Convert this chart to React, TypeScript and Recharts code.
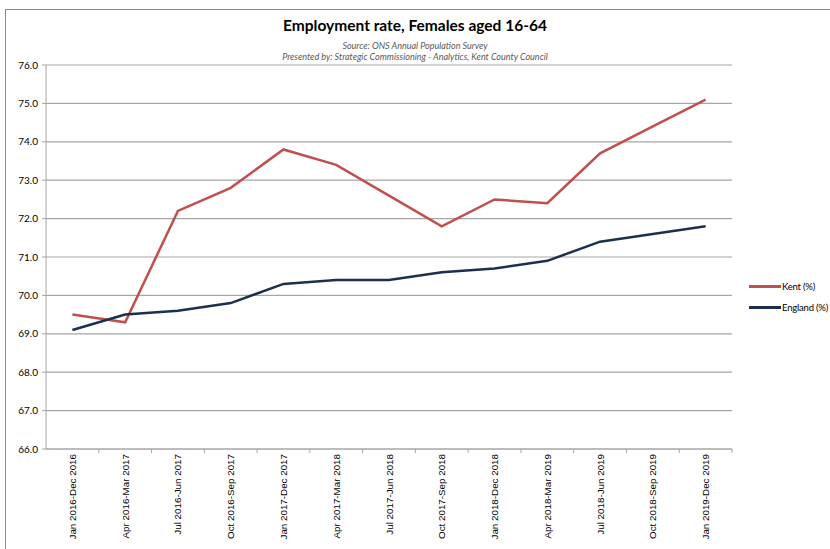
import { CartesianGrid, Line, LineChart, XAxis, YAxis } from "recharts";

const periods = [
  "Jan 2016-Dec 2016",
  "Apr 2016-Mar 2017",
  "Jul 2016-Jun 2017",
  "Oct 2016-Sep 2017",
  "Jan 2017-Dec 2017",
  "Apr 2017-Mar 2018",
  "Jul 2017-Jun 2018",
  "Oct 2017-Sep 2018",
  "Jan 2018-Dec 2018",
  "Apr 2018-Mar 2019",
  "Jul 2018-Jun 2019",
  "Oct 2018-Sep 2019",
  "Jan 2019-Dec 2019"
];
const kent = [69.5, 69.3, 72.2, 72.8, 73.8, 73.4, 72.6, 71.8, 72.5, 72.4, 73.7, 74.4, 75.1];
const england = [69.1, 69.5, 69.6, 69.8, 70.3, 70.4, 70.4, 70.6, 70.7, 70.9, 71.4, 71.6, 71.8];
const yTicks = [66, 67, 68, 69, 70, 71, 72, 73, 74, 75, 76];

const data = periods.map((period, i) => ({ period, kent: kent[i], england: england[i] }));

const KENT = "#c0504d";
const ENGLAND = "#1b2f4e";
const GRID = "#a6a6a6";

const W = 830;
const H = 549;
const M = { top: 65, right: 98, bottom: 5, left: 6 };
const Y_AXIS_W = 40;
const plotW = W - M.left - M.right - Y_AXIS_W;
const halfStep = plotW / periods.length / 2;
const plotBottom = H - M.bottom - 95;

function PeriodTick(props: any) {
  const { x, payload } = props;
  return (
    <g>
      <line x1={x + halfStep} x2={x + halfStep} y1={plotBottom} y2={plotBottom + 4} stroke={GRID} />
      <text
        transform={`translate(${x},${plotBottom + 5}) rotate(-90)`}
        textAnchor="end"
        dominantBaseline="central"
        fontSize={9.8}
        fontFamily="'Liberation Sans', Arial, sans-serif"
        fill="#000"
      >
        {payload.value}
      </text>
    </g>
  );
}

const legendRows = [
  { name: "Kent (%)", color: KENT },
  { name: "England (%)", color: ENGLAND }
];

export default function App() {
  return (
    <div style={{ position: "relative", width: W, height: H, background: "#fff", overflow: "hidden" }}>
      <style>{"html,body{margin:0;padding:0;overflow:hidden}"}</style>
      <div
        style={{
          position: "absolute",
          left: 5,
          top: 9,
          width: W,
          height: H,
          borderLeft: "1px solid #8c8c8c",
          borderTop: "1px solid #8c8c8c"
        }}
      />
      <div
        style={{
          position: "absolute",
          left: 0,
          width: W,
          top: 16,
          textAlign: "center",
          fontFamily: "Lato, sans-serif",
          fontWeight: 700,
          fontSize: 15.5,
          color: "#000"
        }}
      >
        Employment rate, Females aged 16-64
      </div>
      <div
        style={{
          position: "absolute",
          left: 0,
          width: W,
          top: 40,
          textAlign: "center",
          fontFamily: "Lato, sans-serif",
          fontStyle: "italic",
          fontSize: 9,
          lineHeight: "11px",
          color: "#595959"
        }}
      >
        <div>Source: ONS Annual Population Survey</div>
        <div>Presented by: Strategic Commissioning - Analytics, Kent County Council</div>
      </div>
      <div style={{ position: "absolute", left: 0, top: 0 }}>
        <LineChart width={W} height={H} data={data} margin={M}>
          <CartesianGrid vertical={false} stroke={GRID} strokeWidth={1.2} />
          <XAxis
            dataKey="period"
            scale="band"
            interval={0}
            height={95}
            stroke={GRID}
            tickLine={false}
            tick={<PeriodTick />}
          />
          <YAxis
            domain={[66, 76]}
            ticks={yTicks}
            width={Y_AXIS_W}
            stroke={GRID}
            tickSize={4}
            tickMargin={4}
            tickFormatter={(v: number) => v.toFixed(1)}
            tick={{ fill: "#000", fontSize: 10, fontFamily: "Lato, sans-serif" }}
          />
          <Line
            dataKey="kent"
            name="Kent (%)"
            stroke={KENT}
            strokeWidth={2.5}
            dot={false}
            isAnimationActive={false}
          />
          <Line
            dataKey="england"
            name="England (%)"
            stroke={ENGLAND}
            strokeWidth={2.5}
            dot={false}
            isAnimationActive={false}
          />
        </LineChart>
      </div>
      <div style={{ position: "absolute", left: 749, top: 276, width: 81 }}>
        {legendRows.map((r) => (
          <div key={r.name} style={{ display: "flex", alignItems: "center", height: 21, whiteSpace: "nowrap" }}>
            <div style={{ width: 32, height: 2.5, background: r.color, flex: "none" }} />
            <span style={{ fontSize: 9.5, fontFamily: "Lato, sans-serif", color: "#000", marginLeft: 1, letterSpacing: -0.2 }}>
              {r.name}
            </span>
          </div>
        ))}
      </div>
    </div>
  );
}
